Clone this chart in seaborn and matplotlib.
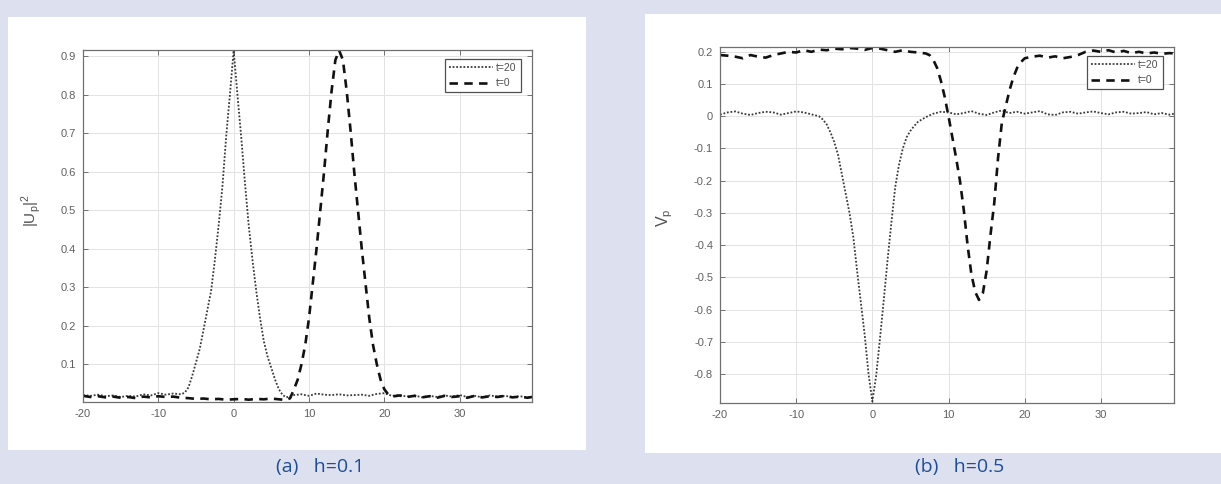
import numpy as np
import pandas as pd
import matplotlib
matplotlib.use("Agg")
import matplotlib.pyplot as plt
import seaborn as sns

# ---------------- data ----------------
# Panel (a) h=0.1 : |U_p|^2
xa_t20 = [-20, -19, -18, -17, -16, -15, -14, -13, -12, -11, -10, -9, -8, -7, -6.5, -6, -5.5, -5, -4.5, -4,
          -3.5, -3, -2.5, -2, -1.5, -1, -0.5, 0, 0.5, 1, 1.5, 2, 2.5, 3, 3.5, 4, 4.5, 5, 5.5, 6, 6.5, 7,
          8, 9, 10, 11, 12, 13, 14, 15, 16, 17, 18, 19, 20, 21, 22, 23, 24, 25, 26, 27, 28, 29, 30, 31,
          32, 33, 34, 35, 36, 37, 38, 39, 39.6]
ya_t20 = [0.020, 0.018, 0.021, 0.017, 0.019, 0.015, 0.018, 0.016, 0.022, 0.019, 0.025, 0.021, 0.024, 0.022,
          0.026, 0.040, 0.070, 0.105, 0.140, 0.190, 0.240, 0.290, 0.370, 0.460, 0.560, 0.690, 0.800, 0.915,
          0.800, 0.690, 0.570, 0.460, 0.370, 0.290, 0.220, 0.160, 0.120, 0.090, 0.060, 0.035, 0.020, 0.014,
          0.020, 0.022, 0.018, 0.024, 0.021, 0.020, 0.022, 0.019, 0.020, 0.021, 0.018, 0.023, 0.025, 0.018,
          0.020, 0.016, 0.019, 0.014, 0.018, 0.015, 0.019, 0.016, 0.020, 0.015, 0.018, 0.014, 0.019, 0.016,
          0.018, 0.015, 0.017, 0.014, 0.016]

xa_t0 = [-20, -19, -18, -17, -16, -15, -14, -13, -12, -11, -10, -9, -8, -7, -6, -5, -4, -3, -2, -1, 0, 1, 2,
         3, 4, 5, 6, 7, 7.5, 8, 8.5, 9, 9.5, 10, 10.5, 11, 11.5, 12, 12.5, 13, 13.5, 14, 14.5, 15, 15.5,
         16, 16.5, 17, 17.5, 18, 18.5, 19, 19.5, 20, 20.5, 21, 22, 23, 24, 25, 26, 27, 28, 29, 30, 31, 32,
         33, 34, 35, 36, 37, 38, 39, 39.6]
ya_t0 = [0.018, 0.015, 0.017, 0.014, 0.016, 0.013, 0.015, 0.012, 0.016, 0.014, 0.017, 0.015, 0.016, 0.013,
         0.012, 0.010, 0.011, 0.009, 0.010, 0.008, 0.009, 0.010, 0.008, 0.010, 0.009, 0.011, 0.009, 0.007,
         0.012, 0.035, 0.060, 0.100, 0.150, 0.220, 0.310, 0.400, 0.500, 0.600, 0.710, 0.810, 0.890, 0.915,
         0.890, 0.810, 0.710, 0.600, 0.500, 0.400, 0.310, 0.220, 0.150, 0.100, 0.060, 0.035, 0.022, 0.016,
         0.019, 0.015, 0.018, 0.014, 0.017, 0.013, 0.018, 0.015, 0.017, 0.013, 0.018, 0.014, 0.017, 0.015,
         0.018, 0.014, 0.016, 0.013, 0.015]

# Panel (b) h=0.5 : V_p
xb_t20 = [-20, -19, -18, -17, -16, -15, -14, -13, -12, -11, -10, -9, -8, -7, -6.5, -6, -5.5, -5, -4.5, -4,
          -3.5, -3, -2.5, -2, -1.5, -1, -0.5, 0, 0.5, 1, 1.5, 2, 2.5, 3, 3.5, 4, 4.5, 5, 5.5, 6, 7, 8, 9,
          10, 11, 12, 13, 14, 15, 16, 17, 18, 19, 20, 21, 22, 23, 24, 25, 26, 27, 28, 29, 30, 31, 32, 33,
          34, 35, 36, 37, 38, 39, 39.6]
yb_t20 = [0.005, 0.012, 0.015, 0.008, 0.004, 0.010, 0.014, 0.012, 0.005, 0.010, 0.015, 0.012, 0.006, 0.000,
          -0.010, -0.025, -0.050, -0.080, -0.120, -0.180, -0.240, -0.300, -0.375, -0.480, -0.580, -0.680,
          -0.800, -0.885, -0.805, -0.690, -0.570, -0.445, -0.330, -0.220, -0.150, -0.100, -0.065, -0.045,
          -0.030, -0.017, -0.003, 0.008, 0.014, 0.012, 0.006, 0.010, 0.016, 0.008, 0.004, 0.012, 0.018,
          0.010, 0.014, 0.008, 0.012, 0.016, 0.006, 0.004, 0.012, 0.014, 0.008, 0.012, 0.015, 0.010, 0.006,
          0.012, 0.014, 0.008, 0.010, 0.013, 0.006, 0.010, 0.005, 0.008]

xb_t0 = [-20, -19, -18, -17, -16, -15, -14, -13, -12, -11, -10, -9, -8, -7, -6, -5, -4, -3, -2, -1, 0, 1, 2,
         3, 4, 5, 6, 7, 7.5, 8, 8.5, 9, 9.5, 10, 10.5, 11, 11.5, 12, 12.5, 13, 13.5, 14, 14.5, 15, 15.5,
         16, 16.5, 17, 17.5, 18, 18.5, 19, 19.5, 20, 21, 22, 23, 24, 25, 26, 27, 28, 29, 30, 31, 32, 33,
         34, 35, 36, 37, 38, 39, 39.6]
yb_t0 = [0.190, 0.188, 0.185, 0.180, 0.190, 0.185, 0.182, 0.190, 0.195, 0.200, 0.198, 0.205, 0.200, 0.207,
         0.205, 0.210, 0.208, 0.212, 0.210, 0.206, 0.212, 0.210, 0.205, 0.200, 0.205, 0.200, 0.198, 0.195,
         0.190, 0.175, 0.150, 0.110, 0.060, 0.000, -0.065, -0.130, -0.200, -0.290, -0.400, -0.490, -0.545,
         -0.570, -0.550, -0.480, -0.370, -0.270, -0.130, -0.020, 0.030, 0.080, 0.120, 0.150, 0.168, 0.180,
         0.185, 0.188, 0.182, 0.186, 0.180, 0.184, 0.190, 0.200, 0.204, 0.200, 0.205, 0.198, 0.203, 0.196,
         0.200, 0.195, 0.198, 0.194, 0.196, 0.195]

x_ticks = [-20, -10, 0, 10, 20, 30]
ya_ticks = [0.1, 0.2, 0.3, 0.4, 0.5, 0.6, 0.7, 0.8, 0.9]
yb_ticks = [-0.8, -0.7, -0.6, -0.5, -0.4, -0.3, -0.2, -0.1, 0, 0.1, 0.2]
labels = ["t=20", "t=0"]
captions = ["(a)   h=0.1", "(b)   h=0.5"]

# ---------------- style ----------------
sns.set_theme(style="whitegrid")
plt.rcParams["font.family"] = ["Liberation Sans", "DejaVu Sans"]

W, H = 1221, 484
fig = plt.figure(figsize=(W / 100, H / 100), dpi=100)
fig.patch.set_facecolor("#dde0ee")

def px_rect(x0, y0, x1, y1):
    return [x0 / W, 1 - y1 / H, (x1 - x0) / W, (y1 - y0) / H]

# white panels (background axes)
for (x0, y0, x1, y1) in [(8, 17, 586, 450), (645, 14, 1221, 453)]:
    bg = fig.add_axes(px_rect(x0, y0, x1, y1), zorder=0)
    bg.set_facecolor("white")
    bg.set_xticks([])
    bg.set_yticks([])
    bg.grid(False)
    for s in bg.spines.values():
        s.set_visible(False)

axA = fig.add_axes(px_rect(83, 50, 532, 402), zorder=2)
axB = fig.add_axes(px_rect(720, 47, 1174, 403), zorder=2)

dot_style = dict(color="#3a3a3a", linewidth=1.3, linestyle=(0, (1, 1)))
dash_style = dict(color="#111111", linewidth=1.9, linestyle=(0, (3.2, 2.4)))

dfa20 = pd.DataFrame({"x": xa_t20, "y": ya_t20})
dfa0 = pd.DataFrame({"x": xa_t0, "y": ya_t0})
dfb20 = pd.DataFrame({"x": xb_t20, "y": yb_t20})
dfb0 = pd.DataFrame({"x": xb_t0, "y": yb_t0})

sns.lineplot(data=dfa20, x="x", y="y", ax=axA, label=labels[0], **dot_style)
sns.lineplot(data=dfa0, x="x", y="y", ax=axA, label=labels[1], **dash_style)
sns.lineplot(data=dfb20, x="x", y="y", ax=axB, label=labels[0], **dot_style)
sns.lineplot(data=dfb0, x="x", y="y", ax=axB, label=labels[1], **dash_style)

axA.set_xlim(-20, 39.6)
axA.set_ylim(0.002, 0.916)
axB.set_xlim(-20, 39.6)
axB.set_ylim(-0.89, 0.215)

axA.set_yticks(ya_ticks)
axA.set_yticklabels([f"{v:.1f}" for v in ya_ticks])
axB.set_yticks(yb_ticks)
axB.set_yticklabels(["0" if abs(v) < 1e-9 else f"{v:.1f}" for v in yb_ticks])

for ax in (axA, axB):
    ax.set_facecolor("white")
    ax.set_xticks(x_ticks)
    ax.set_xticklabels([str(v) for v in x_ticks])
    ax.set_xlabel("")
    ax.grid(True, color="#e3e3e3", linewidth=0.7)
    for s in ax.spines.values():
        s.set_visible(True)
        s.set_color("#707070")
        s.set_linewidth(0.9)
    ax.tick_params(axis="both", which="both", direction="in", length=3.5, width=0.7,
                   colors="#707070", labelcolor="#606060", labelsize=8,
                   top=True, right=True, bottom=True, left=True, pad=5)
    leg = ax.legend(loc="upper right", bbox_to_anchor=(0.975, 0.975), borderaxespad=0,
                    fontsize=7.5, handlelength=4.2, handletextpad=0.3, frameon=True,
                    fancybox=False, framealpha=1, edgecolor="#505050", borderpad=0.4,
                    labelspacing=0.5)
    leg.get_frame().set_linewidth(0.9)
    for t in leg.get_texts():
        t.set_color("#505050")

axA.set_ylabel(r"|U$_\mathregular{p}$|$^\mathregular{2}$", fontsize=11, color="#505050")
axA.yaxis.set_label_coords(-0.09, 0.545)
axB.set_ylabel(r"V$_\mathregular{p}$", fontsize=11.5, color="#505050")
axB.yaxis.set_label_coords(-0.1, 0.52)

fig.text(320 / W, 1 - 467 / H, captions[0], ha="center", va="center",
         fontsize=14, color="#1f4e96", family=["Open Sans", "DejaVu Sans"])
fig.text(960 / W, 1 - 467 / H, captions[1], ha="center", va="center",
         fontsize=14, color="#1f4e96", family=["Open Sans", "DejaVu Sans"])

fig.savefig("out.png", dpi=100, facecolor=fig.get_facecolor())
